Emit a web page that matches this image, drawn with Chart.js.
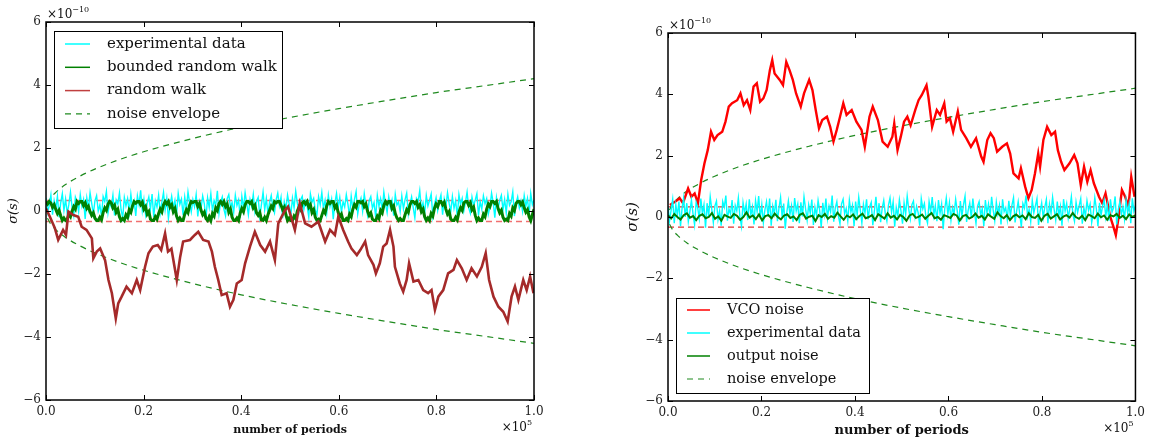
<!DOCTYPE html>
<html>
<head>
<meta charset="utf-8">
<script src="https://cdn.jsdelivr.net/npm/chart.js@4.4.1/dist/chart.umd.min.js"></script>
<style>
  body { margin: 0; background: #fff; width: 1150px; height: 439px; overflow: hidden; position: relative; }
  .box { position: absolute; top: 0; width: 575px; height: 439px; }
</style>
</head>
<body>
<div class="box" style="left:0"><canvas id="left" width="575" height="439"></canvas></div>
<div class="box" style="left:575px"><canvas id="right" width="575" height="439"></canvas></div>
<script>
// x in units of 1e5 periods, y in units of 1e-10 s
const xTicks = [0, 0.2, 0.4, 0.6, 0.8, 1.0];
const yTicks = [-6, -4, -2, 0, 2, 4, 6];

// noise envelope
const envX = [0.003, 0.01, 0.02, 0.04, 0.07, 0.1, 0.15, 0.2, 0.3, 0.4, 0.5, 0.6, 0.7, 0.8, 0.9, 1.0];
const envUpper = [0.23, 0.42, 0.59, 0.84, 1.11, 1.33, 1.63, 1.88, 2.30, 2.66, 2.97, 3.25, 3.51, 3.76, 3.98, 4.2];
const envLower = [-0.23, -0.42, -0.59, -0.84, -1.11, -1.33, -1.63, -1.88, -2.30, -2.66, -2.97, -3.25, -3.51, -3.76, -3.98, -4.2];
const boundLevels = [0.33, -0.33];

// left panel: experimental data (evenly spaced samples)
const expLeft = [
  0.42,-0.05,0.18,0.51,-0.12,0.33,0.08,0.47,-0.2,0.26,0.55,0.02,0.38,-0.08,0.21,0.6,0.11,-0.15,0.44,0.29,
  -0.02,0.52,0.15,0.36,-0.25,0.41,0.07,0.58,0.24,-0.1,0.33,0.49,0.0,0.19,-0.18,0.46,0.3,0.62,-0.06,0.27,
  0.13,0.5,-0.14,0.35,0.22,0.57,0.04,-0.22,0.43,0.16,0.39,-0.04,0.53,0.09,0.31,-0.16,0.48,0.2,0.66,0.01,
  0.37,-0.11,0.25,0.45,0.06,0.54,-0.19,0.32,0.12,0.5,-0.07,0.28,0.59,0.03,0.4,-0.24,0.17,0.47,0.1,0.34,
  -0.09,0.56,0.21,0.38,-0.13,0.44,0.05,0.61,0.26,-0.03,0.36,0.14,0.52,-0.17,0.3,0.08,0.48,0.23,-0.27,0.42,
  0.11,0.55,0.0,0.33,0.19,0.64,-0.08,0.29,0.45,0.06,-0.15,0.39,0.52,0.13,0.27,-0.05,0.5,0.18,0.35,-0.21,
  0.46,0.09,0.58,0.24,-0.12,0.37,0.15,0.53,-0.02,0.31,0.43,-0.18,0.2,0.6,0.04,0.4,-0.1,0.28,0.49,0.12,
  -0.06,0.35,0.57,0.17,0.44,-0.23,0.3,0.07,0.51,0.22,-0.14,0.41,0.1,0.63,0.25,-0.01,0.36,0.47,0.05,0.32,
  0.16,-0.19,0.54,0.28,0.4,0.02,-0.11,0.45,0.2,0.59,0.08,0.34,-0.07,0.5,0.14,0.38,-0.26,0.26,0.56,0.1,
  0.43,-0.04,0.3,0.13,0.52,0.21,-0.16,0.47,0.06,0.37,0.62,-0.09,0.24,0.41,0.0,0.55,0.18,-0.13,0.33,0.46,
  0.09,0.27,-0.2,0.5,0.15,0.39,0.03,0.6,0.23,-0.05,0.44,0.12,0.35,-0.15,0.53,0.19,0.29,-0.02,0.48,0.07,
  0.36,0.57,-0.1,0.22,0.45,0.11,-0.22,0.4,0.3,0.65,0.05,0.26,-0.08,0.49,0.16,0.34,0.54,-0.17,0.2,0.42,
  0.02,0.31,0.51,-0.12,0.38,0.14,0.58,0.25,-0.03,0.46,0.08,0.33,-0.19,0.52,0.21,0.4,0.0,0.28,0.6,0.1,
  -0.07,0.44,0.17,0.35,0.55,-0.14,0.3,0.06,0.48,0.23,0.39,-0.1,0.13,0.57,0.27,-0.21,0.42,0.09,0.34,0.5,
  0.04,0.37,-0.06,0.53,0.18,0.29,0.61,-0.16,0.24,0.45,0.1,0.32,-0.01,0.49,0.15,0.4,-0.12,0.56,0.2,0.35
];

// left panel: bounded random walk (evenly spaced samples)
const boundedWalk = [
  0.3,0.22,0.3,0.25,0.12,0.2,0.05,-0.08,0.02,-0.15,-0.3,-0.22,-0.3,-0.27,-0.1,-0.18,0.0,0.14,0.06,0.3,
  0.24,0.3,0.3,0.17,0.26,0.08,0.15,-0.02,-0.14,-0.06,-0.23,-0.3,-0.3,-0.2,-0.28,-0.05,0.1,0.02,0.22,0.3,
  0.26,0.1,0.18,-0.04,0.05,-0.18,-0.3,-0.24,-0.3,-0.12,-0.2,0.04,-0.04,0.16,0.3,0.25,0.3,0.3,0.2,0.28,
  0.06,0.14,-0.1,-0.02,-0.26,-0.3,-0.3,-0.18,-0.26,-0.08,0.06,-0.03,0.2,0.3,0.22,0.3,0.12,0.2,-0.02,0.08,
  -0.16,-0.3,-0.22,-0.3,-0.3,-0.1,0.04,-0.05,0.18,0.3,0.27,0.3,0.3,0.15,0.24,0.02,-0.12,-0.04,-0.24,-0.3,
  -0.18,-0.3,-0.08,-0.16,0.1,0.02,0.24,0.3,0.21,0.3,0.14,0.22,-0.04,0.06,-0.2,-0.3,-0.3,-0.22,-0.3,-0.06,
  0.08,-0.02,0.2,0.3,0.3,0.24,0.3,0.1,0.18,-0.06,-0.14,-0.05,-0.28,-0.3,-0.2,-0.3,-0.12,0.02,0.16,0.08,
  0.3,0.26,0.3,0.3,0.18,0.04,0.12,-0.12,-0.3,-0.22,-0.3,-0.3,-0.16,-0.24,0.0,0.12,0.04,0.26,0.3,0.22,
  0.3,0.12,0.2,-0.05,0.04,-0.2,-0.3,-0.26,-0.3,-0.14,0.02,-0.06,0.16,0.3,0.24,0.3,0.3,0.1,0.18,-0.04,
  -0.18,-0.1,-0.3,-0.3,-0.24,-0.3,-0.1,-0.18,0.06,0.2,0.12,0.3,0.3,0.26,0.3,0.14,0.22,0.0,-0.14,-0.06,
  -0.26,-0.3,-0.3,-0.16,-0.24,0.02,-0.06,0.18,0.3,0.22,0.3,0.3,0.08,0.16,-0.08,-0.22,-0.3,-0.24,-0.3,-0.3,
  -0.12,0.04,-0.04,0.2,0.3,0.3,0.24,0.3,0.12,0.2,-0.02,0.06,-0.18,-0.3,-0.22,-0.3,-0.08,-0.16,0.08,0.22,
  0.14,0.3,0.3,0.2,0.28,0.06,-0.1,-0.02,-0.26,-0.3,-0.3,-0.2,-0.28,-0.04,0.1,0.02,0.26,0.3,0.3,0.18,
  0.26,0.04,0.12,-0.14,-0.3,-0.22,-0.3,-0.3,-0.1,-0.18,0.06,0.22,0.14,0.3,0.3,0.24,0.3,0.08,-0.06,0.02,
  -0.2,-0.3,-0.26,-0.3,-0.08,-0.16,0.1,0.02,0.24,0.3,0.3,0.2,0.28,0.1,-0.04,0.04,-0.18,-0.3,-0.12,0.06
];

// left panel: random walk
const walkX = [
  0.0,0.008,0.018,0.025,0.035,0.041,0.046,0.056,0.066,0.073,0.083,0.094,0.097,0.104,0.111,0.121,0.128,0.135,0.143,0.148,
  0.155,0.165,0.176,0.186,0.193,0.203,0.21,0.219,0.229,0.236,0.244,0.25,0.257,0.268,0.275,0.281,0.295,0.305,0.312,0.322,
  0.333,0.34,0.346,0.353,0.36,0.37,0.377,0.384,0.391,0.401,0.408,0.418,0.428,0.439,0.449,0.459,0.469,0.476,0.483,0.49,
  0.496,0.51,0.52,0.531,0.544,0.558,0.572,0.582,0.592,0.599,0.609,0.619,0.626,0.637,0.644,0.654,0.66,0.671,0.676,0.684,
  0.691,0.698,0.705,0.712,0.715,0.725,0.732,0.739,0.744,0.753,0.763,0.773,0.783,0.79,0.797,0.804,0.814,0.824,0.835,0.842,
  0.852,0.862,0.872,0.883,0.893,0.901,0.908,0.917,0.927,0.937,0.946,0.954,0.961,0.968,0.978,0.985,0.992,0.999
];
const walkY = [
  0.08,-0.18,-0.54,-0.92,-0.6,-0.76,-0.02,-0.13,-0.18,-0.5,-0.6,-0.87,-1.5,-1.29,-1.19,-1.56,-2.19,-2.61,-3.41,-2.93,
  -2.72,-2.4,-2.61,-2.19,-2.51,-1.77,-1.34,-1.13,-1.08,-1.24,-0.71,-1.29,-1.2,-2.19,-1.45,-0.97,-0.92,-0.76,-0.66,-0.92,
  -0.97,-1.29,-1.77,-2.19,-2.67,-2.61,-3.04,-2.82,-2.3,-2.19,-1.66,-1.13,-0.66,-1.08,-1.29,-0.97,-1.56,-0.39,-0.18,0.03,
  0.14,-0.6,0.24,-0.39,-0.5,-0.34,-0.97,-0.6,-0.76,-0.18,-0.6,-0.97,-1.19,-1.4,-1.24,-0.97,-1.4,-1.71,-1.98,-1.66,
  -1.13,-1.03,-0.6,-1.13,-1.77,-2.3,-2.56,-2.19,-1.66,-2.24,-2.19,-2.51,-2.61,-2.51,-3.14,-2.72,-2.51,-1.98,-1.87,-1.56,
  -1.82,-2.19,-1.82,-2.08,-1.77,-1.34,-2.19,-2.72,-3.04,-3.2,-3.51,-2.72,-2.4,-2.82,-2.19,-2.51,-2.08,-2.61
];

// right panel: VCO noise
const vcoX = [
  0.004,0.015,0.025,0.032,0.043,0.05,0.057,0.064,0.071,0.078,0.085,0.092,0.099,0.106,0.116,0.123,0.13,0.137,0.148,0.155,
  0.162,0.169,0.176,0.183,0.19,0.197,0.204,0.211,0.218,0.223,0.228,0.239,0.246,0.253,0.26,0.267,0.274,0.284,0.291,0.302,
  0.309,0.316,0.323,0.33,0.34,0.347,0.354,0.361,0.368,0.375,0.382,0.393,0.403,0.414,0.421,0.431,0.438,0.449,0.459,0.47,
  0.48,0.484,0.491,0.498,0.505,0.512,0.519,0.529,0.536,0.543,0.553,0.557,0.565,0.575,0.582,0.591,0.596,0.603,0.61,0.62,
  0.627,0.638,0.648,0.659,0.67,0.675,0.683,0.69,0.697,0.704,0.715,0.725,0.732,0.739,0.75,0.755,0.764,0.771,0.778,0.785,
  0.792,0.796,0.803,0.811,0.82,0.828,0.834,0.841,0.848,0.859,0.869,0.876,0.883,0.89,0.897,0.904,0.911,0.922,0.929,0.936,
  0.946,0.953,0.958,0.964,0.971,0.978,0.985,0.991,0.998
];
const vcoY = [
  0.39,0.5,0.61,0.45,0.93,0.66,0.77,0.45,1.21,1.75,2.18,2.78,2.51,2.67,2.78,3.11,3.6,3.71,3.81,4.03,
  3.65,3.81,3.49,4.25,4.36,3.76,3.87,4.14,4.79,5.12,4.68,4.47,4.3,5.06,4.79,4.47,4.03,3.6,4.03,4.47,
  4.14,3.49,2.89,3.16,3.27,2.94,2.46,2.84,3.27,3.71,3.33,3.49,3.11,2.84,2.29,3.27,3.6,3.16,2.46,2.29,
  2.62,3.05,2.18,2.62,3.11,3.27,2.99,3.49,3.81,3.98,4.3,3.92,2.94,3.49,3.33,3.71,3.11,3.22,2.78,3.44,
  2.84,2.57,2.29,2.57,1.97,1.8,2.51,2.73,2.57,2.13,2.29,2.4,2.07,1.42,1.26,1.59,0.99,0.61,0.88,1.42,
  2.07,1.64,2.51,2.94,2.67,2.78,2.18,1.8,1.53,1.75,2.02,1.75,1.04,1.64,1.15,1.53,1.1,0.66,0.45,0.77,
  0.01,-0.32,-0.59,0.0,0.88,0.66,0.34,1.31,0.66
];

// right panel: experimental data (evenly spaced samples)
const expRight = [
  0.35,-0.12,0.22,0.58,-0.2,0.4,0.05,0.5,-0.3,0.28,0.62,0.0,0.45,-0.15,0.18,0.55,0.1,-0.25,0.48,0.3,
  -0.05,0.6,0.12,0.4,-0.35,0.45,0.02,0.66,0.25,-0.18,0.36,0.52,-0.08,0.2,-0.28,0.5,0.32,0.7,-0.12,0.26,
  0.1,0.55,-0.22,0.38,0.2,0.62,0.0,-0.3,0.47,0.14,0.42,-0.1,0.58,0.06,0.33,-0.24,0.53,0.18,0.68,-0.04,
  0.4,-0.18,0.24,0.5,0.03,0.6,-0.28,0.35,0.1,0.56,-0.14,0.3,0.64,0.0,0.44,-0.38,0.16,0.52,0.08,0.37,
  -0.16,0.62,0.2,0.42,-0.2,0.48,0.02,0.66,0.27,-0.1,0.4,0.12,0.57,-0.26,0.32,0.05,0.54,0.22,-0.34,0.46,
  0.08,0.6,-0.04,0.36,0.17,0.7,-0.15,0.3,0.5,0.03,-0.22,0.43,0.58,0.1,0.28,-0.12,0.55,0.16,0.38,-0.3,
  0.5,0.06,0.64,0.23,-0.2,0.41,0.13,0.58,-0.08,0.34,0.48,-0.27,0.19,0.66,0.01,0.45,-0.17,0.29,0.54,0.1,
  -0.13,0.38,0.62,0.15,0.49,-0.32,0.31,0.04,0.56,0.21,-0.22,0.46,0.08,0.68,0.25,-0.06,0.4,0.52,0.02,0.35,
  0.14,-0.28,0.6,0.27,0.44,-0.01,-0.2,0.5,0.18,0.65,0.05,0.37,-0.14,0.55,0.12,0.42,-0.4,0.26,0.62,0.08,
  0.47,-0.1,0.31,0.11,0.58,0.2,-0.25,0.52,0.03,0.4,0.68,-0.16,0.22,0.45,-0.03,0.6,0.16,-0.21,0.35,0.5,
  0.06,0.28,-0.3,0.55,0.13,0.43,0.0,0.66,0.22,-0.12,0.48,0.1,0.38,-0.24,0.58,0.17,0.3,-0.08,0.53,0.04,
  0.39,0.63,-0.18,0.2,0.5,0.09,-0.33,0.44,0.29,0.7,0.02,0.25,-0.15,0.54,0.14,0.36,0.6,-0.26,0.18,0.46,
  -0.02,0.32,0.57,-0.2,0.42,0.12,0.64,0.24,-0.1,0.5,0.05,0.35,-0.28,0.58,0.2,0.44,-0.04,0.27,0.66,0.08,
  -0.14,0.48,0.15,0.37,0.6,-0.22,0.3,0.03,0.53,0.22,0.42,-0.18,0.11,0.63,0.26,-0.3,0.46,0.06,0.36,0.56,
  0.01,0.4,-0.12,0.58,0.16,0.3,0.67,-0.24,0.23,0.5,0.08,0.34,-0.07,0.55,0.13,0.44,-0.2,0.61,0.19,0.38
];

// right panel: output noise (evenly spaced samples)
const outNoise = [
  0.05,-0.05,0.1,0.0,-0.08,0.06,0.12,-0.02,0.03,-0.1,0.04,0.09,-0.04,0.0,0.13,-0.06,0.02,-0.12,0.07,0.01,
  -0.03,0.1,0.04,-0.09,0.0,0.15,-0.02,0.05,-0.07,0.08,-0.11,0.03,0.06,-0.04,0.11,0.0,-0.08,0.05,0.09,-0.03,
  0.02,-0.1,0.07,0.12,-0.05,0.01,0.04,-0.13,0.06,0.0,0.1,-0.06,0.03,-0.02,0.14,0.02,-0.09,0.05,-0.01,0.08,
  -0.07,0.03,0.11,-0.04,0.0,0.06,-0.1,0.09,0.02,-0.05,0.12,-0.02,0.04,-0.08,0.07,0.0,-0.12,0.05,0.1,-0.03,
  0.01,0.08,-0.06,0.04,0.13,-0.04,0.0,-0.09,0.06,0.02,-0.03,0.1,0.05,-0.11,0.03,0.07,-0.05,0.0,0.11,-0.02,
  0.04,-0.08,0.09,0.01,-0.06,0.15,0.03,-0.04,0.06,-0.1,0.02,0.08,-0.01,0.05,-0.07,0.12,0.0,-0.03,0.07,-0.12,
  0.04,0.1,-0.05,0.02,0.09,-0.08,0.01,0.06,-0.02,0.13,0.0,-0.06,0.04,-0.1,0.08,0.03,-0.04,0.11,-0.01,0.05,
  -0.09,0.06,0.02,0.1,-0.03,0.04,-0.07,0.08,0.0,0.05
];

const FONT = 'DejaVu Serif';

function even(vals) {
  return vals.map((v, i) => ({ x: i / (vals.length - 1), y: v }));
}
function pairs(xs, ys) {
  return xs.map((x, i) => ({ x: x, y: ys[i] }));
}
function flat(v) {
  return [{ x: 0, y: v }, { x: 1, y: v }];
}
function line(data, color, width, dash) {
  return {
    data: data, borderColor: color, borderWidth: width, borderDash: dash || [],
    pointRadius: 0, fill: false, tension: 0
  };
}
function envelope(data) {
  const d = line(data, '#1f8a1f', 1.2, [6, 5]);
  d.cubicInterpolationMode = 'monotone';
  return d;
}

function minus(v) {
  return v < 0 ? '\u2212' + Math.abs(v) : String(v);
}

// frame, inward ticks, labels and the boxed legend
const decor = {
  id: 'decor',
  afterDatasetsDraw(chart, args, o) {
    const { ctx, chartArea: a, scales: { x, y } } = chart;
    ctx.save();
    ctx.strokeStyle = '#000';
    ctx.lineWidth = 1;
    ctx.beginPath();
    x.ticks.forEach(t => {
      const px = Math.round(x.getPixelForValue(t.value)) + 0.5;
      ctx.moveTo(px, a.bottom); ctx.lineTo(px, a.bottom - 5);
      ctx.moveTo(px, a.top); ctx.lineTo(px, a.top + 5);
    });
    y.ticks.forEach(t => {
      const py = Math.round(y.getPixelForValue(t.value)) + 0.5;
      ctx.moveTo(a.left, py); ctx.lineTo(a.left + 5, py);
      ctx.moveTo(a.right, py); ctx.lineTo(a.right - 5, py);
    });
    ctx.stroke();
    ctx.lineWidth = 1.5;
    ctx.strokeRect(a.left, a.top, a.right - a.left, a.bottom - a.top);

    ctx.fillStyle = '#111';
    // exponent labels
    ctx.textAlign = 'left';
    ctx.textBaseline = 'alphabetic';
    ctx.font = o.tickSize + 'px ' + FONT;
    ctx.fillText('\u00d710', a.left + 1, a.top - 4);
    let w = ctx.measureText('\u00d710').width;
    ctx.font = (o.tickSize - 4) + 'px ' + FONT;
    ctx.fillText('\u221210', a.left + 1 + w, a.top - 10);
    ctx.font = o.tickSize + 'px ' + FONT;
    w = ctx.measureText('\u00d710').width;
    ctx.fillText('\u00d710', a.right - w - 7, a.bottom + 31);
    ctx.font = (o.tickSize - 4) + 'px ' + FONT;
    ctx.fillText('5', a.right - 7, a.bottom + 25);

    // axis titles
    ctx.font = 'bold ' + o.titleSize + 'px ' + FONT;
    ctx.textAlign = 'center';
    ctx.fillText('number of periods', (a.left + a.right) / 2, a.bottom + 33);
    ctx.save();
    ctx.translate(o.sigmaX, (a.top + a.bottom) / 2);
    ctx.rotate(-Math.PI / 2);
    ctx.font = 'italic ' + o.sigmaSize + 'px ' + FONT;
    ctx.textBaseline = 'middle';
    ctx.fillText('\u03c3(s)', 0, 0);
    ctx.restore();

    // legend
    const L = o.legend;
    ctx.fillStyle = '#fff';
    ctx.fillRect(L.x, L.y, L.w, L.h);
    ctx.lineWidth = 1;
    ctx.strokeStyle = '#000';
    ctx.strokeRect(L.x + 0.5, L.y + 0.5, L.w, L.h);
    ctx.font = o.legendSize + 'px ' + FONT;
    ctx.textAlign = 'left';
    ctx.textBaseline = 'middle';
    L.items.forEach((it, i) => {
      const cy = L.y + L.first + i * L.step;
      ctx.strokeStyle = it.color;
      ctx.lineWidth = it.width;
      ctx.setLineDash(it.dash || []);
      ctx.beginPath();
      ctx.moveTo(L.x + L.l0, cy);
      ctx.lineTo(L.x + L.l1, cy);
      ctx.stroke();
      ctx.setLineDash([]);
      ctx.fillStyle = '#111';
      ctx.fillText(it.label, L.x + L.tx, cy);
    });
    ctx.restore();
  }
};

function makeChart(id, datasets, area, extras) {
  return new Chart(document.getElementById(id), {
    type: 'line',
    data: { datasets: datasets },
    options: {
      responsive: false,
      animation: false,
      devicePixelRatio: 1,
      layout: { padding: { left: 0, right: area.right, top: area.top, bottom: 0 } },
      scales: {
        x: {
          type: 'linear', min: 0, max: 1,
          afterBuildTicks: s => { s.ticks = xTicks.map(v => ({ value: v })); },
          afterFit: s => { s.height = area.xh; },
          grid: { display: false, drawTicks: false, tickLength: 0 },
          border: { display: false },
          ticks: {
            padding: 5, color: '#222', font: { family: FONT, size: extras.tickSize },
            callback: v => v.toFixed(1), maxRotation: 0
          }
        },
        y: {
          type: 'linear', min: -6, max: 6,
          afterBuildTicks: s => { s.ticks = yTicks.map(v => ({ value: v })); },
          afterFit: s => { s.width = area.yw; },
          grid: { display: false, drawTicks: false, tickLength: 0 },
          border: { display: false },
          ticks: {
            padding: 5, color: '#222', font: { family: FONT, size: extras.tickSize },
            callback: v => minus(v)
          }
        }
      },
      plugins: {
        legend: { display: false },
        tooltip: { enabled: false },
        decor: extras
      }
    },
    plugins: [decor]
  });
}

// left: datasets listed top-most first
makeChart('left', [
  line(pairs(walkX, walkY), '#a52a2a', 2.6),
  line(even(boundedWalk), '#008000', 3),
  line(even(expLeft), '#00ffff', 1.4),
  envelope(pairs(envX, envUpper)),
  envelope(pairs(envX, envLower)),
  line(flat(boundLevels[0]), '#f07070', 1.5, [6, 4]),
  line(flat(boundLevels[1]), '#f07070', 1.5, [6, 4])
], { right: 41, top: 22, xh: 39, yw: 46 }, {
  tickSize: 12, titleSize: 11, sigmaSize: 13, legendSize: 15, sigmaX: 14,
  legend: {
    x: 54, y: 31, w: 228, h: 97, first: 13, step: 23.3, l0: 11, l1: 36, tx: 53,
    items: [
      { label: 'experimental data', color: '#00ffff', width: 1.5 },
      { label: 'bounded random walk', color: '#008000', width: 1.5 },
      { label: 'random walk', color: '#c04040', width: 1.5 },
      { label: 'noise envelope', color: '#1f8a1f', width: 1.2, dash: [6, 5] }
    ]
  }
});

makeChart('right', [
  line(even(outNoise), '#008000', 2),
  line(even(expRight), '#00ffff', 1.4),
  line(pairs(vcoX, vcoY), '#ff0000', 2.4),
  envelope(pairs(envX, envUpper)),
  envelope(pairs(envX, envLower)),
  line(flat(boundLevels[0]), '#e03030', 1.2, [6, 4]),
  line(flat(boundLevels[1]), '#e03030', 1.2, [6, 4])
], { right: 6, top: 33, xh: 38, yw: 93 }, {
  tickSize: 12, titleSize: 13, sigmaSize: 15, legendSize: 14.5, sigmaX: 58,
  legend: {
    x: 101, y: 298, w: 193, h: 95, first: 12, step: 23, l0: 11, l1: 34, tx: 51,
    items: [
      { label: 'VCO noise', color: '#ff0000', width: 1.5 },
      { label: 'experimental data', color: '#00ffff', width: 1.5 },
      { label: 'output noise', color: '#008000', width: 1.5 },
      { label: 'noise envelope', color: '#1f8a1f', width: 1.2, dash: [6, 5] }
    ]
  }
});
</script>
</body>
</html>
